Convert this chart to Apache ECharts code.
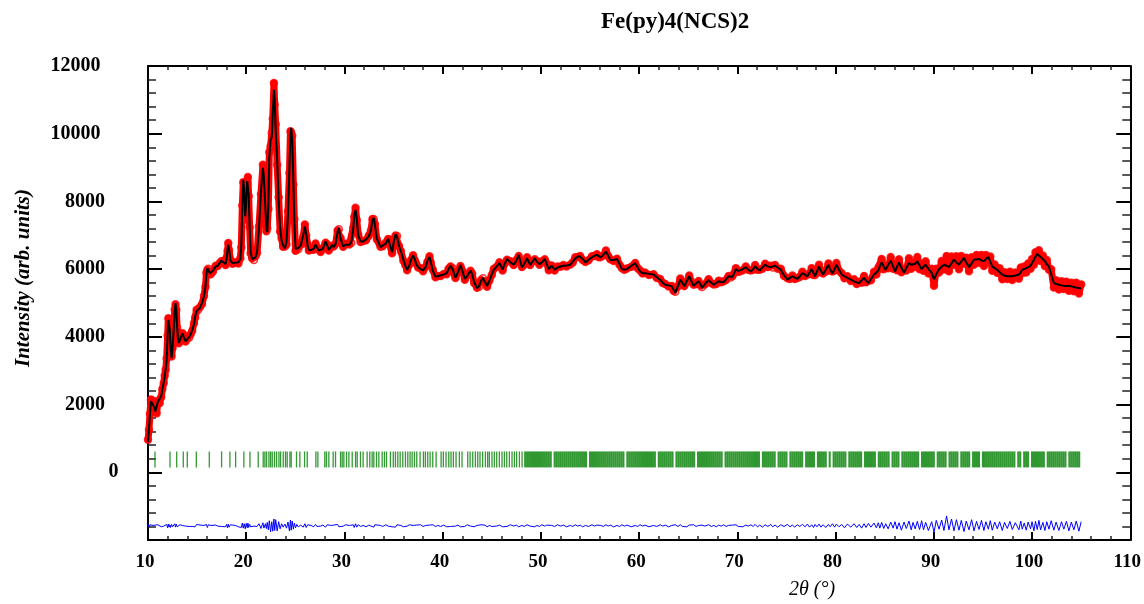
<!DOCTYPE html>
<html>
<head>
<meta charset="utf-8">
<title>Fe(py)4(NCS)2</title>
<script src="https://cdn.jsdelivr.net/npm/echarts@6/dist/echarts.min.js"></script>
<style>
  html, body { margin: 0; padding: 0; background: #fff; }
  #chart { width: 1144px; height: 604px; }
</style>
</head>
<body>
<div id="chart"></div>
<script>
// Profile points: 2θ (deg)
const twoTheta = [
  10.0,10.1,10.2,10.3,10.4,10.5,10.6,10.75,10.88,11.0,
  11.1,11.2,11.35,11.46,11.6,11.7,11.8,11.9,12.0,12.07,
  12.15,12.22,12.3,12.4,12.5,12.64,12.72,12.8,12.88,12.97,
  13.05,13.15,13.25,13.39,13.5,13.6,13.7,13.83,14.0,14.2,
  14.34,14.5,14.68,14.8,14.95,15.1,15.3,15.5,15.7,15.85,
  15.95,16.04,16.15,16.3,16.4,16.6,16.89,17.1,17.3,17.46,
  17.6,17.9,18.0,18.1,18.17,18.25,18.4,18.6,18.9,19.2,
  19.4,19.5,19.6,19.7,19.8,19.9,20.0,20.1,20.17,20.25,
  20.35,20.45,20.6,20.78,20.95,21.1,21.3,21.5,21.7,21.8,
  21.95,22.05,22.14,22.25,22.35,22.48,22.6,22.7,22.82,22.9,
  23.0,23.15,23.3,23.45,23.6,23.75,23.94,24.1,24.25,24.4,
  24.5,24.58,24.68,24.8,24.9,25.02,25.15,25.3,25.55,25.8,
  25.97,26.1,26.25,26.38,26.6,26.85,27.06,27.2,27.4,27.57,
  27.8,28.08,28.25,28.4,28.6,28.75,28.9,29.1,29.3,29.43,
  29.6,29.87,30.1,30.3,30.5,30.7,30.9,31.0,31.13,31.25,
  31.4,31.64,31.9,32.2,32.48,32.7,32.85,32.99,33.1,33.3,
  33.67,33.9,34.2,34.45,34.6,34.85,35.05,35.2,35.35,35.55,
  35.75,36.0,36.2,36.38,36.6,36.8,36.99,37.15,37.3,37.5,
  37.75,38.0,38.25,38.45,38.66,38.8,39.0,39.27,39.5,39.8,
  40.1,40.4,40.6,40.8,41.0,41.3,41.55,41.81,42.0,42.25,
  42.5,42.83,43.0,43.2,43.5,43.7,43.9,44.1,44.3,44.52,
  44.75,45.0,45.2,45.5,45.78,46.1,46.3,46.55,46.9,47.23,
  47.5,47.74,48.07,48.3,48.59,48.9,49.1,49.37,49.6,49.85,
  50.1,50.39,50.6,50.8,51.1,51.4,51.7,52.0,52.3,52.6,
  53.0,53.25,53.5,53.75,54.0,54.25,54.53,54.85,55.2,55.45,
  55.7,55.9,56.1,56.35,56.62,56.85,57.06,57.4,57.74,58.0,
  58.25,58.5,58.76,59.2,59.6,59.85,60.1,60.35,60.6,61.0,
  61.47,61.8,62.15,62.4,62.66,63.0,63.33,63.5,63.68,63.95,
  64.19,64.4,64.6,64.85,65.1,65.3,65.55,65.8,66.05,66.25,
  66.4,66.7,67.07,67.35,67.6,67.85,68.1,68.35,68.6,68.85,
  69.1,69.3,69.5,69.7,69.85,70.1,70.3,70.55,70.86,71.1,
  71.37,71.6,71.81,72.05,72.28,72.55,72.83,73.1,73.4,73.6,
  73.84,74.1,74.42,74.75,75.1,75.35,75.6,75.85,76.1,76.35,
  76.62,76.9,77.13,77.35,77.57,77.75,77.91,78.1,78.32,78.5,
  78.73,79.0,79.27,79.45,79.68,79.9,80.08,80.35,80.62,80.9,
  81.2,81.55,81.88,82.15,82.39,82.65,82.9,83.1,83.34,83.6,
  83.91,84.15,84.35,84.5,84.69,84.9,85.1,85.35,85.61,85.85,
  86.05,86.25,86.46,86.7,86.97,87.2,87.47,87.7,87.88,88.1,
  88.32,88.55,88.76,88.95,89.17,89.45,89.78,90.02,90.25,90.53,
  90.8,91.03,91.3,91.54,91.8,92.05,92.3,92.56,92.8,93.07,
  93.3,93.58,93.85,94.09,94.35,94.6,94.85,95.1,95.3,95.55,
  95.75,95.95,96.2,96.46,96.7,96.97,97.2,97.48,97.75,97.99,
  98.3,98.66,98.85,99.0,99.2,99.41,99.6,99.85,100.0,100.19,
  100.35,100.53,100.7,100.87,101.1,101.31,101.5,101.72,101.95,102.22,
  102.45,102.73,103.0,103.24,103.5,103.75,104.0,104.26,104.5,104.77,
  105.0
];

// Calculated intensity (arb. units) at each 2θ
const yCalc = [
  900,1300,1700,2100,2150,2000,1940,1800,1750,2080,
  2060,2040,2250,2440,2650,2830,3050,3320,4100,4500,
  4450,4200,3700,3380,3700,4300,4750,5000,4750,4300,
  3950,3820,3900,4020,4100,4100,3950,3870,3920,4000,
  4070,4200,4370,4600,4760,4800,4860,5000,5200,5500,
  5850,6030,5980,5880,5840,5950,6080,6100,6150,6250,
  6220,6150,6300,6600,6720,6600,6250,6180,6190,6200,
  6300,6700,7800,8640,8300,7560,8000,8600,8640,8200,
  7200,6500,6300,6280,6350,6500,7200,8300,8990,8700,
  7800,7200,7100,7900,9300,9820,9900,10600,11300,11000,
  10100,9230,8000,7200,6850,6700,6620,6800,7600,9000,
  9900,10170,9800,8600,7400,6600,6560,6620,6700,7000,
  7260,7050,6700,6570,6560,6600,6720,6650,6550,6520,
  6600,6820,6700,6570,6640,6720,6650,6750,7100,7210,
  6900,6670,6720,6770,6720,6800,7200,7600,7750,7500,
  7000,6820,6820,6880,6970,7150,7450,7510,7300,6900,
  6650,6700,6750,6900,6850,6500,6850,7030,6950,6700,
  6520,6280,6100,5980,6100,6300,6400,6300,6150,6060,
  6000,5960,6050,6250,6360,6200,5950,5780,5790,5820,
  5840,5880,6000,6100,6000,5750,5900,6120,5950,5710,
  5800,5960,5850,5620,5440,5500,5650,5740,5620,5510,
  5650,5850,5980,6080,6180,5990,6150,6300,6200,6130,
  6250,6420,6050,6150,6320,6130,6200,6320,6220,6150,
  6200,6300,6150,6000,6100,5980,6050,6080,6100,6110,
  6130,6220,6320,6370,6370,6300,6200,6280,6350,6400,
  6420,6380,6350,6420,6520,6400,6270,6270,6300,6150,
  6000,5990,6000,6100,6170,6050,5930,5880,5880,5860,
  5840,5760,5680,5600,5540,5520,5490,5400,5300,5500,
  5690,5600,5490,5650,5790,5650,5510,5580,5640,5550,
  5450,5560,5670,5600,5540,5590,5640,5620,5610,5700,
  5790,5780,5770,5900,6000,5940,5930,6000,6060,5990,
  5930,6000,6080,6010,5960,6050,6130,6080,6060,6080,
  6100,6050,5980,5820,5690,5740,5790,5750,5710,5790,
  5880,5830,5790,5900,6000,5880,5790,5930,6080,5950,
  5840,5980,6130,5990,5870,6000,6130,5980,5840,5790,
  5740,5690,5640,5610,5590,5670,5740,5660,5590,5710,
  5840,5900,5960,6080,6200,6080,5980,6120,6250,6080,
  5930,6070,6200,6040,5890,6040,6180,6130,6080,6160,
  6230,6110,6000,6070,6130,6010,5890,5700,5850,6000,
  6070,6130,6100,6060,6170,6280,6200,6130,6230,6330,
  6200,6060,6170,6280,6290,6300,6260,6230,6300,6360,
  6220,6080,6030,5980,5910,5840,5810,5790,5790,5790,
  5810,5840,5910,5980,6000,6030,6060,6100,6180,6280,
  6370,6450,6400,6360,6300,6230,6150,6080,5850,5590,
  5560,5540,5520,5510,5500,5510,5490,5470,5460,5440,
  5430
];

// Observed minus calculated at each 2θ
const yDiff = [
  60,-40,30,50,-20,10,-30,20,-10,30,
  -20,10,-30,20,-10,30,-20,40,-60,50,
  -40,30,-50,40,-30,20,60,-40,50,-30,
  20,-10,30,-20,10,-30,20,-10,30,-20,
  10,-20,30,-30,40,-10,20,-30,10,-20,
  40,-50,30,-20,10,-30,20,-10,30,-20,
  20,-30,40,-60,50,-40,30,-20,10,-30,
  20,-50,80,-70,60,-90,70,-60,80,-50,
  40,-30,20,-10,30,-20,60,-80,90,-70,
  60,-80,100,-120,150,-180,120,-160,200,-140,
  180,-150,120,-90,60,-40,50,-70,110,-150,
  170,-130,140,-100,80,-60,40,-30,20,-40,
  60,-50,30,-20,10,-30,40,-20,30,-10,
  20,-40,30,-20,10,-30,20,-10,40,-30,
  20,-10,30,-20,10,-20,30,-50,60,-40,
  30,-20,10,-30,20,-10,30,-40,30,-20,
  10,-20,30,-10,20,-30,20,-40,30,-20,
  10,-30,20,-10,30,-20,10,-30,20,-10,
  30,-20,10,-30,20,-10,30,-20,10,-20,
  20,-30,10,-20,30,-10,20,-30,10,-20,
  30,-10,20,-30,10,-20,30,-10,20,-30,
  10,-20,30,-10,20,-30,10,-20,30,-10,
  20,-30,10,-20,30,-10,20,-30,10,-20,
  30,-10,20,-30,10,-20,30,-10,20,-30,
  10,-20,30,-10,20,-30,10,-20,30,-10,
  20,-30,10,-20,30,-10,20,-30,10,-20,
  30,-10,20,-30,10,-20,30,-10,20,-30,
  10,-20,30,-10,20,-30,10,-40,30,-20,
  30,-20,10,-30,20,-10,30,-20,10,-30,
  20,-10,30,-20,10,-30,20,-10,30,-20,
  10,-30,20,-10,30,-20,10,-30,20,-10,
  30,-20,40,-30,20,-40,30,-20,40,-30,
  20,-40,30,-20,40,-30,20,-40,30,-20,
  40,-30,50,-40,30,-50,40,-30,50,-40,
  30,-50,40,-30,60,-40,50,-30,40,-60,
  50,-40,60,-50,40,-70,60,-50,70,-40,
  80,-60,90,-70,100,-80,60,-90,110,-70,
  120,-100,90,-130,110,-80,140,-120,100,-90,
  130,-110,150,-120,100,-140,120,-190,160,-100,
  170,-140,290,-120,200,-150,180,-130,160,-170,
  140,-120,180,-150,130,-110,160,-140,120,-100,
  150,-130,110,-90,120,-140,100,-80,130,-110,
  90,-120,140,-100,80,-130,110,-90,120,-150,
  130,-110,160,-120,100,-140,120,-100,150,-130,
  110,-140,120,-100,130,-150,110,-120,140,-160,
  120
];

// Reflection positions, 2θ (deg): resolved low-angle part
const braggLow = [
  10.71,12.24,12.92,13.59,14.0,14.92,16.24,17.49,18.34,18.92,19.76,20.38,
  21.22,21.73,21.9,22.07,22.31,22.48,22.65,22.88,23.09,23.33,23.5,23.77,
  24.0,24.17,24.45,24.58,25.12,25.46,25.94,26.21,27.09,27.29,28.0,28.17,
  28.41,28.85,29.09,29.6,29.77,29.94,30.21,30.45,30.79,31.13,31.3,31.63,
  31.9,32.31,32.58,32.82,32.99,33.26,33.5,33.84,34.07,34.28,34.68,34.97,
  35.19,35.43,35.67,35.94,36.21,36.45,36.68,36.89,37.12,37.36,37.7,38.04,
  38.24,38.48,38.72,38.99,39.33,39.84,40.07,40.34,40.62,40.85,41.09,41.36,
  41.7,41.97,42.55,42.79,43.06,43.33,43.57,43.8,44.07,44.35,44.58,44.75,
  45.02,45.26,45.5,45.77,46.04,46.28,46.52,46.79,47.06,47.3,47.53,47.81,48.08
];
// Reflection positions, 2θ (deg): crowded high-angle part
const braggHigh = [
  48.4,48.6,48.8,49.0,49.2,49.4,49.6,49.8,50.0,50.2,50.4,50.6,50.8,51.0,
  51.4,51.6,51.8,52.0,52.2,52.4,52.6,52.8,53.0,53.2,53.4,53.6,53.8,54.0,54.2,54.4,54.6,
  55.0,55.2,55.4,55.6,55.8,56.0,56.2,56.4,56.6,56.8,57.0,57.2,57.4,57.6,57.8,58.0,58.2,58.4,
  58.8,59.0,59.2,59.4,59.6,59.8,60.0,60.2,60.4,60.6,60.8,61.0,61.2,61.4,61.6,
  62.0,62.2,62.4,62.6,62.8,63.0,63.2,63.4,
  63.8,64.0,64.2,64.4,64.6,64.8,65.0,65.2,65.4,65.6,
  66.0,66.2,66.4,66.6,66.8,67.0,67.2,67.4,67.6,67.8,68.0,68.2,68.4,
  68.8,69.0,69.2,69.4,69.6,69.8,70.0,70.2,70.4,70.6,70.8,71.0,71.2,71.4,71.6,71.8,72.0,72.2,
  72.6,72.8,73.0,73.2,73.4,73.6,73.8,
  74.2,74.4,74.6,74.8,75.0,
  75.4,75.6,75.8,76.0,76.2,76.4,76.6,
  77.0,77.2,77.4,77.6,77.8,
  78.2,78.4,78.6,78.8,79.0,
  79.4,
  79.8,80.0,80.2,80.4,80.6,80.8,81.0,
  81.4,81.6,81.8,82.0,82.2,82.4,82.6,
  83.0,83.2,83.4,83.6,83.8,84.0,
  84.4,84.6,84.8,85.0,85.2,85.4,
  85.8,86.0,86.2,86.4,
  86.8,87.0,87.2,87.4,87.6,87.8,88.0,88.2,88.4,
  88.8,89.0,89.2,89.4,89.6,89.8,90.0,
  90.4,90.6,90.8,91.0,91.2,
  91.6,91.8,92.0,92.2,92.4,
  92.8,93.0,93.2,93.4,93.6,
  94.0,94.2,94.4,94.6,
  95.0,95.2,95.4,95.6,95.8,96.0,96.2,96.4,96.6,96.8,97.0,97.2,97.4,97.6,97.8,98.0,98.2,
  98.6,98.8,
  99.2,99.4,99.6,
  100.0,100.2,100.4,100.6,100.8,101.0,101.2,
  101.6,101.8,102.0,102.2,102.4,102.6,102.8,103.0,103.2,103.4,
  103.8,104.0,104.2,104.4,104.6,104.8
];

// Axis tick labels
const xTickValues = [10, 20, 30, 40, 50, 60, 70, 80, 90, 100, 110];
const yTickValues = [0, 2000, 4000, 6000, 8000, 10000, 12000];
const yAxisMin = -2000;

// Vertical placement of the reflection markers and of the difference curve
const braggLevel = 380;
const diffOffset = -1580;

const n = Math.min(twoTheta.length, yCalc.length, yDiff.length);
const calcData = [], obsData = [], diffData = [];
for (let i = 0; i < n; i++) {
  calcData.push([twoTheta[i], yCalc[i]]);
  obsData.push([twoTheta[i], yCalc[i] + yDiff[i]]);
  diffData.push([twoTheta[i], yDiff[i] + diffOffset]);
}
const braggData = braggLow.concat(braggHigh).map(p => [p, braggLevel]);

const SERIF = '"Liberation Serif", "Times New Roman", serif';
const lbl = { fontFamily: SERIF, fontWeight: 'bold', fontSize: 20, color: '#000' };

const xStep = xTickValues[1] - xTickValues[0];
const yStep = yTickValues[1] - yTickValues[0];

const xCommon = {
  type: 'value',
  min: xTickValues[0],
  max: xTickValues[xTickValues.length - 1],
  interval: xStep,
  axisLine: { show: true, onZero: false, lineStyle: { color: '#000', width: 2 } },
  axisTick: { show: true, inside: true, length: 8, lineStyle: { color: '#000', width: 2 } },
  minorTick: { show: true, splitNumber: 5, length: 4, lineStyle: { color: '#222', width: 1.5 } },
  splitLine: { show: false },
  minorSplitLine: { show: false }
};
const yCommon = {
  type: 'value',
  min: yAxisMin,
  max: yTickValues[yTickValues.length - 1],
  interval: yStep,
  axisLine: { show: true, onZero: false, lineStyle: { color: '#000', width: 2 } },
  axisTick: { show: true, inside: true, length: 14, lineStyle: { color: '#000', width: 2 } },
  minorTick: { show: true, splitNumber: 5, length: 8, lineStyle: { color: '#222', width: 1.5 } },
  splitLine: { show: false },
  minorSplitLine: { show: false }
};

const chart = echarts.init(document.getElementById('chart'), null, { renderer: 'canvas' });
chart.setOption({
  backgroundColor: '#fff',
  animation: false,
  title: {
    text: 'Fe(py)4(NCS)2',
    left: 601,
    top: 11,
    padding: 0,
    textStyle: { fontFamily: SERIF, fontWeight: 'bold', fontSize: 23, color: '#000' }
  },
  grid: { left: 148, right: 12, top: 66, bottom: 64, containLabel: false },
  xAxis: [
    Object.assign({}, xCommon, {
      position: 'bottom',
      axisLabel: {
        show: true, margin: 13, padding: [0, 6, 0, 0],
        fontFamily: SERIF, fontWeight: 'bold', fontSize: 19, color: '#000'
      }
    }),
    Object.assign({}, xCommon, { position: 'top', axisLabel: { show: false } })
  ],
  yAxis: [
    Object.assign({}, yCommon, {
      position: 'left',
      axisLabel: {
        show: true,
        margin: 25,
        formatter: v => yTickValues.includes(v) ? `{d${String(v).length}|${v}}` : '',
        rich: {
          d1: Object.assign({}, lbl, { padding: [0, 4.5, 0, 0] }),
          d4: Object.assign({}, lbl, { padding: [0, 18, 0, 0] }),
          d5: Object.assign({}, lbl, { padding: [0, 22.5, 0, 0] })
        }
      }
    }),
    Object.assign({}, yCommon, { position: 'right', axisLabel: { show: false } })
  ],
  graphic: [
    {
      type: 'text', x: 24, y: 278, rotation: Math.PI / 2,
      style: {
        text: 'Intensity (arb. units)',
        font: 'italic bold 21px ' + SERIF,
        fill: '#000', align: 'center', verticalAlign: 'middle'
      }
    },
    {
      type: 'text', x: 812, y: 590,
      style: {
        text: '2θ (°)',
        font: 'italic 20px ' + SERIF,
        fill: '#000', align: 'center', verticalAlign: 'middle'
      }
    }
  ],
  series: [
    {
      name: 'Yobs band', type: 'line', data: obsData, showSymbol: false, z: 2,
      lineStyle: { color: '#ff0000', width: 7, join: 'round', cap: 'round' },
      emphasis: { disabled: true }
    },
    {
      name: 'Yobs', type: 'scatter', data: obsData, z: 3,
      symbol: 'circle', symbolSize: 7,
      itemStyle: { color: 'rgba(255,0,0,0)', borderColor: '#ff0000', borderWidth: 1.5 },
      emphasis: { disabled: true }
    },
    {
      name: 'Ycalc', type: 'line', data: calcData, showSymbol: false, z: 4,
      lineStyle: { color: '#000', width: 2 },
      emphasis: { disabled: true }
    },
    {
      name: 'Bragg', type: 'scatter', data: braggData, z: 2,
      symbol: 'rect',
      symbolSize: v => v[0] < 48.3 ? [1.3, 16] : [2.1, 16],
      itemStyle: { color: '#008000' },
      emphasis: { disabled: true }
    },
    {
      name: 'Yobs-Ycalc', type: 'line', data: diffData, showSymbol: false, z: 2,
      lineStyle: { color: '#0000ff', width: 1 },
      emphasis: { disabled: true }
    }
  ]
});
</script>
</body>
</html>
